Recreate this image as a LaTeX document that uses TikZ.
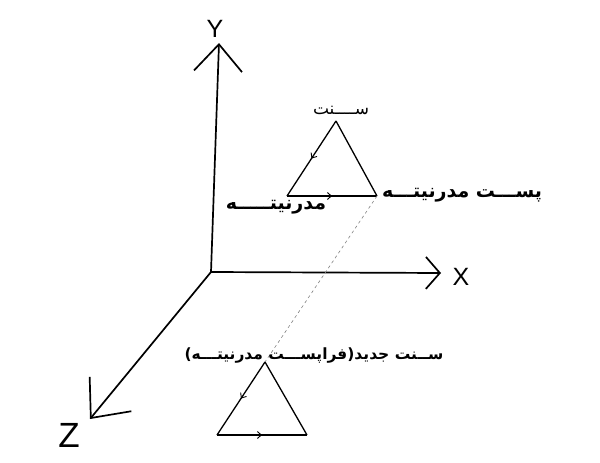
\documentclass[tikz,border=0pt]{standalone}
\usepackage{fontspec}
\setmainfont{Liberation Sans}
\newfontfamily\farsi[Script=Arabic]{DejaVu Sans}
\TeXXeTstate=1
\usetikzlibrary{arrows.meta}
\usetikzlibrary{decorations.markings}
\tikzset{
axis/.style={line width=1.7pt},
side/.style={line width=1.3pt},
axislabel/.style={inner sep=0pt, font=\fontsize{25}{25}\selectfont},
fa/.style={inner sep=0pt, font=\fontsize{17}{17}\farsi},
midarrow/.style={postaction={decorate}, decoration={markings,
  mark=at position 0.5 with {\arrow{Straight Barb[length=4pt,width=7pt,line width=0.9pt]}}}}
}

\begin{document}
\begin{tikzpicture}[x=1pt,y=-1pt]
\useasboundingbox (0,0) rectangle (600,463);
% axes
\coordinate (O) at (211,272);
\coordinate (Yend) at (219,43);
\coordinate (Xend) at (441,273);
\coordinate (Zend) at (90,419);
\draw[axis, -{Straight Barb[length=27pt,width=48pt]}] (O) -- (Yend);
\draw[axis, -{Straight Barb[length=14pt,width=32pt]}] (O) -- (Xend);
\draw[axis, -{Straight Barb[length=31pt,width=54pt]}] (O) -- (Zend);
\node [axislabel] (Y) at (215,29) {Y};
\node [axislabel] (X) at (461,277) {X};
\node [axislabel, font=\fontsize{35}{35}\selectfont] (Z) at (69,435) {Z};

% triangle of modernity
\coordinate (t1top) at (336,121);
\coordinate (t1left) at (287,196);
\coordinate (t1right) at (377,196);
\draw[side, midarrow] (t1top) -- (t1left);
\draw[side, midarrow] (t1left) -- (t1right);
\draw[side] (t1right) -- (t1top);

% new tradition
\coordinate (t2top) at (265,362);
\coordinate (t2left) at (217,435);
\coordinate (t2right) at (307,435);
\draw[side, midarrow] (t2top) -- (t2left);
\draw[side, midarrow] (t2left) -- (t2right);
\draw[side] (t2right) -- (t2top);

\draw[dashed, line width=0.6pt, gray] (t1right) -- (t2top);

% labels
\node [fa] (sonnat) at (341,110) {\beginR ســــنت\endR};
\node [fa, font=\fontsize{19}{19}\farsi\bfseries] (post) at (462,195) {\beginR پســـت مدرنیتـــه\endR};
\node [fa, font=\fontsize{19}{19}\farsi\bfseries] (modern) at (276,207) {\beginR مدرنیتـــــه\endR};
\node [fa, font=\fontsize{15.5}{15.5}\farsi\bfseries] (jadid) at (314,356) {\beginR ســنت جدید(فراپســـت مدرنیتـــه)\endR};
\end{tikzpicture}
\end{document}
